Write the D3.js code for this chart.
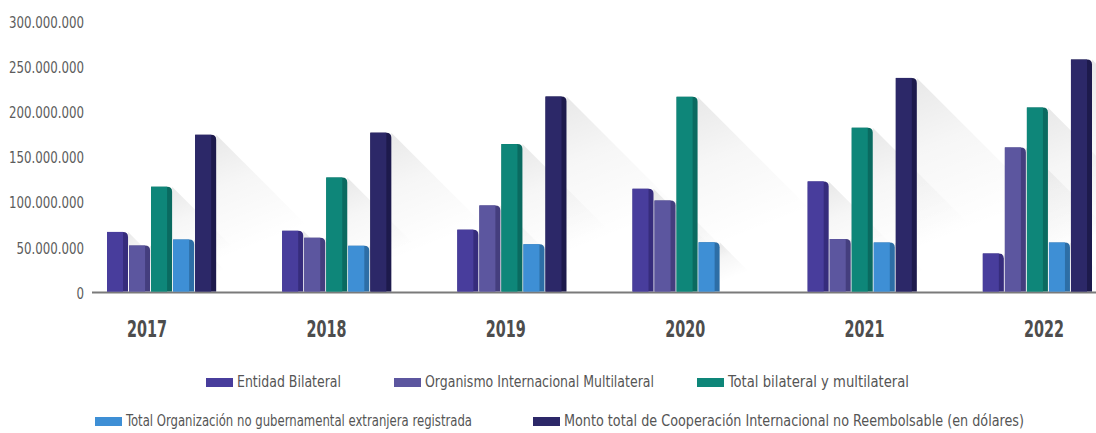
<!DOCTYPE html>
<html>
<head>
<meta charset="utf-8">
<script src="https://cdn.jsdelivr.net/npm/d3@7"></script>
<style>
  html, body { margin: 0; padding: 0; background: #ffffff; }
  svg { display: block; }
  .narrow { font-family: "Liberation Sans Narrow", "DejaVu Sans Condensed", "Arial Narrow", sans-serif; }
</style>
</head>
<body>
<svg id="chart" width="1096" height="433"></svg>
<script>
// Cooperación internacional no reembolsable, por año (USD)
const years = ["2017", "2018", "2019", "2020", "2021", "2022"];
const seriesNames = [
  "Entidad Bilateral",
  "Organismo Internacional Multilateral",
  "Total bilateral y multilateral",
  "Total Organización no gubernamental extranjera registrada",
  "Monto total de Cooperación Internacional no Reembolsable (en dólares)"
];
const entidadBilateral   = [67200000, 68400000, 69700000, 115000000, 123200000, 43200000];
const organismoMulti     = [52000000, 60700000, 96600000, 102000000, 59300000, 160900000];
const totalBilMulti      = [117300000, 127500000, 164600000, 217000000, 182700000, 205100000];
const totalONG           = [58700000, 51800000, 53500000, 55600000, 55400000, 55400000];
const montoTotal         = [174900000, 177300000, 217300000, null, 238000000, 258300000];
const yTicks = [0, 50000000, 100000000, 150000000, 200000000, 250000000, 300000000];

const seriesValues = [entidadBilateral, organismoMulti, totalBilMulti, totalONG, montoTotal];
const faceColors = ["#483d9c", "#5c569f", "#0e8679", "#3e8fd5", "#2c2868"];
const sideColors = ["#362c7c", "#443e7e", "#0a6a60", "#2d6ea6", "#1d1a4c"];

const svg = d3.select("#chart");

const y = d3.scaleLinear().domain([0, 300000000]).range([292.5, 22]);
const x0 = d3.scaleBand().domain(years).range([107, 1093]).paddingInner(0.371).paddingOuter(0);
const x1 = d3.scaleBand().domain(d3.range(seriesNames.length)).range([0, x0.bandwidth()]);
const xLabel = d3.scalePoint().domain(years).range([147, 1044]);

const locale = d3.formatLocale({ decimal: ",", thousands: ".", grouping: [3], currency: ["", ""] });
const fmt = locale.format(",d");

// squeeze a group of labels horizontally by a common factor so the widest
// sample string ends up at the given width (narrow lettering)
function squeeze(sel, sampleWidth, targetWidth) {
  const k = targetWidth / sampleWidth;
  sel.each(function () {
    const w = this.getComputedTextLength();
    d3.select(this).attr("textLength", w * k).attr("lengthAdjust", "spacingAndGlyphs");
  });
}

// gradient for the long diagonal shadows
const defs = svg.append("defs");
const grad = defs.append("linearGradient").attr("id", "shade")
  .attr("x1", 0).attr("y1", 0).attr("x2", 0.4).attr("y2", 1);
grad.append("stop").attr("offset", 0).attr("stop-color", "#000").attr("stop-opacity", 0.09);
grad.append("stop").attr("offset", 0.3).attr("stop-color", "#000").attr("stop-opacity", 0.035);
grad.append("stop").attr("offset", 0.7).attr("stop-color", "#000").attr("stop-opacity", 0);

// y axis labels (no axis line)
const yAxis = d3.axisLeft(y).tickValues(yTicks).tickFormat(fmt).tickSize(0).tickPadding(0);
const gy = svg.append("g").attr("transform", "translate(84,0)").call(yAxis);
gy.select(".domain").remove();
const yText = gy.selectAll("text")
  .attr("class", "narrow")
  .attr("font-size", 16)
  .attr("font-family", null)
  .attr("fill", "#5c5c5c")
  .attr("dy", "0.35em");
const topLabel = yText.filter(d => d === 300000000).node();
squeeze(yText, topLabel.getComputedTextLength(), 75);

// flatten data
const bars = [];
years.forEach((yr, i) => {
  seriesValues.forEach((vals, s) => {
    if (vals[i] != null) bars.push({ year: yr, s, value: vals[i] });
  });
});

const bw = x1.bandwidth() - 1;
const side = 5;

// shadows behind the bars
svg.append("g").selectAll("path").data(bars).join("path")
  .attr("d", d => {
    const x = x0(d.year) + x1(d.s) + bw;
    const top = y(d.value), base = y(0);
    const h = base - top;
    return `M${x},${top} L${x + h},${base} L${x},${base} Z`;
  })
  .attr("fill", "url(#shade)");

// baseline
svg.append("line")
  .attr("x1", 92).attr("x2", 1096)
  .attr("y1", y(0)).attr("y2", y(0))
  .attr("stroke", "#7a7a7a").attr("stroke-width", 2);

// bars: darker side with rounded top corner, then the front face
const gb = svg.append("g");
gb.selectAll("path.side").data(bars).join("path")
  .attr("class", "side")
  .attr("d", d => {
    const x = x0(d.year) + x1(d.s);
    const top = y(d.value), base = y(0) - 1;
    return `M${x},${base} L${x},${top} L${x + bw - 5},${top} Q${x + bw},${top} ${x + bw},${top + 5} L${x + bw},${base} Z`;
  })
  .attr("fill", d => sideColors[d.s]);
gb.selectAll("rect.face").data(bars).join("rect")
  .attr("class", "face")
  .attr("x", d => x0(d.year) + x1(d.s))
  .attr("y", d => y(d.value))
  .attr("width", bw - side)
  .attr("height", d => y(0) - 1 - y(d.value))
  .attr("fill", d => faceColors[d.s]);

// year labels
const yearText = svg.append("g").selectAll("text").data(years).join("text")
  .attr("class", "narrow")
  .attr("x", d => xLabel(d))
  .attr("y", 337)
  .attr("text-anchor", "middle")
  .attr("font-size", 23)
  .attr("font-weight", "bold")
  .attr("fill", "#4d4d4d")
  .text(d => d);
squeeze(yearText, yearText.node().getComputedTextLength(), 40);

// legend
const legendItems = [
  { s: 0, x: 206, y: 382, w: 104 },
  { s: 1, x: 394, y: 382, w: 229 },
  { s: 2, x: 697, y: 382, w: 181 },
  { s: 3, x: 95, y: 421, w: 346 },
  { s: 4, x: 533, y: 421, w: 460 }
];
const gl = svg.append("g");
const li = gl.selectAll("g").data(legendItems).join("g")
  .attr("transform", d => `translate(${d.x},${d.y})`);
li.append("rect")
  .attr("x", 0).attr("y", -4).attr("width", 27).attr("height", 9)
  .attr("fill", d => faceColors[d.s]);
li.append("text")
  .attr("class", "narrow")
  .attr("x", 31).attr("y", 0).attr("dy", "0.35em")
  .attr("font-size", 15)
  .attr("fill", "#555")
  .attr("textLength", d => d.w)
  .attr("lengthAdjust", "spacingAndGlyphs")
  .text(d => seriesNames[d.s]);
</script>
</body>
</html>
